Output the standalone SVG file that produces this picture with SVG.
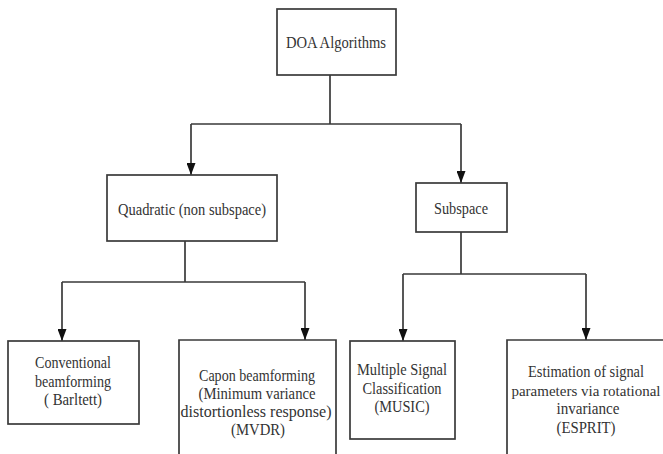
<svg xmlns="http://www.w3.org/2000/svg" width="663" height="454" viewBox="0 0 663 454">
  <style>
    .box { fill: #ffffff; stroke: #3a3a3a; stroke-width: 1.7; }
    .wire { fill: none; stroke: #3a3a3a; stroke-width: 1.7; }
    .lbl { font-family: "Liberation Serif", "Times New Roman", serif; font-size: 16px; fill: #333333; text-anchor: middle; }
  </style>
  <defs>
    <marker id="head" markerUnits="userSpaceOnUse" markerWidth="13" markerHeight="9" refX="12" refY="4.5" orient="auto" viewBox="0 0 13 9">
      <path d="M0,0 L12,4.5 L0,9 Z" fill="#111111"/>
    </marker>
  </defs>

  <rect width="663" height="454" fill="#ffffff"/>

  <!-- connectors -->
  <g id="connectors">
    <path class="wire" d="M330,75 V124 M191,124 H461 M185,241 V282 M62,282 H305 M461,232 V274 M403,274 H586"/>
    <path class="wire" d="M191,124 V175" marker-end="url(#head)"/>
    <path class="wire" d="M461,124 V183" marker-end="url(#head)"/>
    <path class="wire" d="M62,282 V341" marker-end="url(#head)"/>
    <path class="wire" d="M305,282 V340" marker-end="url(#head)"/>
    <path class="wire" d="M403,274 V341" marker-end="url(#head)"/>
    <path class="wire" d="M586,274 V340" marker-end="url(#head)"/>
  </g>

  <!-- root -->
  <g id="doa">
    <rect class="box" x="277" y="9" width="119" height="66"/>
    <text class="lbl" x="336" y="48" textLength="100" lengthAdjust="spacingAndGlyphs">DOA Algorithms</text>
  </g>

  <!-- second level -->
  <g id="quadratic">
    <rect class="box" x="107" y="175" width="170" height="66"/>
    <text class="lbl" x="192" y="215" textLength="148" lengthAdjust="spacingAndGlyphs">Quadratic (non subspace)</text>
  </g>
  <g id="subspace">
    <rect class="box" x="416" y="183" width="91" height="49"/>
    <text class="lbl" x="461" y="214" textLength="54" lengthAdjust="spacingAndGlyphs">Subspace</text>
  </g>

  <!-- leaves; the two tall boxes run past the lower and right edges -->
  <g id="conventional">
    <rect class="box" x="8" y="341" width="131" height="83"/>
    <text class="lbl" x="73" y="368" textLength="76" lengthAdjust="spacingAndGlyphs">Conventional</text>
    <text class="lbl" x="73" y="386.5" textLength="76" lengthAdjust="spacingAndGlyphs">beamforming</text>
    <text class="lbl" x="73" y="405" textLength="58" lengthAdjust="spacingAndGlyphs">( Barltett)</text>
  </g>
  <g id="capon">
    <path class="box" d="M179,454 V340 H336 V454"/>
    <text class="lbl" x="257" y="381" textLength="116" lengthAdjust="spacingAndGlyphs">Capon beamforming</text>
    <text class="lbl" x="257" y="399" textLength="117" lengthAdjust="spacingAndGlyphs">(Minimum variance</text>
    <text class="lbl" x="256" y="417" textLength="151" lengthAdjust="spacingAndGlyphs">distortionless response)</text>
    <text class="lbl" x="258" y="435" textLength="54" lengthAdjust="spacingAndGlyphs">(MVDR)</text>
  </g>
  <g id="music">
    <rect class="box" x="350" y="341" width="105" height="98"/>
    <text class="lbl" x="402" y="375" textLength="90" lengthAdjust="spacingAndGlyphs">Multiple Signal</text>
    <text class="lbl" x="402" y="393.5" textLength="79" lengthAdjust="spacingAndGlyphs">Classification</text>
    <text class="lbl" x="402" y="412" textLength="55" lengthAdjust="spacingAndGlyphs">(MUSIC)</text>
  </g>
  <g id="esprit">
    <path class="box" d="M507,454 V340 H663"/>
    <text class="lbl" x="586" y="377" textLength="116" lengthAdjust="spacingAndGlyphs">Estimation of signal</text>
    <text class="lbl" x="586" y="395.5" style="font-size:15px">parameters via rotational</text>
    <text class="lbl" x="588" y="414" textLength="63" lengthAdjust="spacingAndGlyphs">invariance</text>
    <text class="lbl" x="586" y="432.5" textLength="59" lengthAdjust="spacingAndGlyphs">(ESPRIT)</text>
  </g>
</svg>
